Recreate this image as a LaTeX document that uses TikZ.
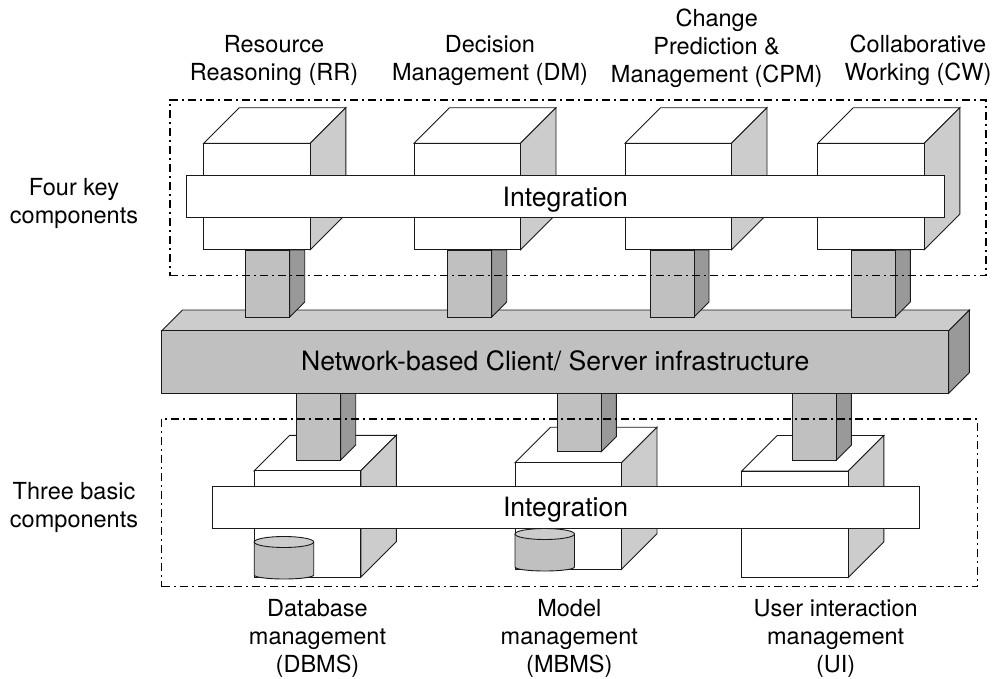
\documentclass[tikz,border=0pt]{standalone}
\usepackage{fontspec}
\setmainfont{TeX Gyre Heros}
\definecolor{sideg}{HTML}{CCCCCC}
\definecolor{frontg}{HTML}{C0C0C0}
\definecolor{darkg}{HTML}{999999}
\definecolor{ink}{HTML}{1A1A1A}
\tikzset{
  edge/.style={draw=ink,line width=0.9pt,line join=miter},
  whiteface/.style={edge,fill=white},
  sideface/.style={edge,fill=sideg},
  frontface/.style={edge,fill=frontg},
  darkface/.style={edge,fill=darkg},
  groupbox/.style={draw=black,line width=1.3pt,dash pattern=on 8pt off 4pt on 2pt off 4pt},
  barnode/.style={draw=ink,line width=0.9pt,inner sep=0pt,font=\fontsize{26.6}{30}\selectfont,text=black},
  lab/.style={align=center,inner sep=0pt,anchor=base,text=black,font=\fontsize{23.5}{28.2}\selectfont},
}
% front top-left x, y
\newcommand{\mycube}[2]{%
  \path[whiteface] (#1,#2) -- ++(35.5,-35.5) -- ++(106.5,0) -- ++(-35.5,35.5) -- cycle;
  \path[sideface] (#1+106.5,#2) -- ++(35.5,-35.5) -- ++(0,106.5) -- ++(-35.5,35.5) -- cycle;
  \path[whiteface] (#1,#2) rectangle ++(106.5,106.5);
}
% front left x, top y, bottom y
\newcommand{\mypillar}[3]{%
  \path[darkface] (#1+44,#2) -- ++(15,0) -- (#1+59,#3-15) -- (#1+44,#3) -- cycle;
  \path[frontface] (#1,#2) rectangle (#1+44,#3);
}
% left x, top y of ellipse, bottom y of body
\newcommand{\mycyl}[3]{%
  \path[frontface] (#1,#2) -- (#1,#3) arc[start angle=180,end angle=0,x radius=29.75,y radius=4] -- (#1+59.5,#2) -- cycle;
  \path[sideface] (#1+29.75,#2) ellipse[x radius=29.75,y radius=5.5];
}
\begin{document}
\begin{tikzpicture}[x=1pt,y=-1pt]
\useasboundingbox (0,0) rectangle (996,679);
% network slab back faces
\path[sideface] (161.7,330.7) -- (182.4,310) -- (969.4,310) -- (948.7,330.7) -- cycle;
\path[darkface] (948.7,330.7) -- (969.4,310) -- (969.4,372.6) -- (948.7,393.3) -- cycle;
% upper pillars and cubes
\mypillar{245.7}{250}{317}
\mypillar{447.7}{250}{317}
\mypillar{650}{250}{317}
\mypillar{851.3}{250}{317}
\mycube{203.8}{143.3}
\mycube{414}{143.3}
\mycube{625}{143.3}
\mycube{817.8}{143.3}
\node[barnode,fill=white,minimum width=757.3pt,minimum height=42.3pt,text height=21pt,text depth=0pt] (topbar) at (565.3,196.15) {Integration};
% lower cubes and pillars
\mycube{254.3}{470.8}
\mycube{515}{462.7}
\mycube{741.8}{471}
\mycyl{254.2}{542}{575}
\mycyl{515}{534}{567}
\mypillar{296.7}{393}{460}
\mypillar{557.3}{393}{451.7}
\mypillar{792.4}{393}{460}
\node[barnode,fill=white,minimum width=706.7pt,minimum height=42.3pt,text height=19pt,text depth=0pt] (lowbar) at (565.6,507.15) {Integration};
\node[barnode,fill=frontg,minimum width=787pt,minimum height=62.6pt,text height=17.4pt,text depth=0pt] (network) at (555.2,362) {Network-based Client/ Server infrastructure};
% dash-dot group frames
\node[groupbox,inner sep=0pt,minimum width=816pt,minimum height=175.7pt] (topgroup) at (578,187.9) {};
\node[groupbox,inner sep=0pt,minimum width=816pt,minimum height=167.7pt] (lowgroup) at (569.7,502.85) {};
% labels
\node[lab] (rr) at (274,81) {Resource\\Reasoning (RR)};
\node[lab] (dm) at (490,81) {Decision\\Management (DM)};
\node[lab] (cpm) at (716.7,82.7) {Change\\Prediction \&\\Management (CPM)};
\node[lab] (cw) at (918,81) {Collaborative\\Working (CW)};
\node[lab] (fourkey) at (74,223.3) {Four key\\components};
\node[lab] (threebasic) at (74,527.3) {Three basic\\components};
\node[lab] (dbms) at (317.5,672.5) {Database\\management\\(DBMS)};
\node[lab] (mbms) at (569.3,672.5) {Model\\management\\(MBMS)};
\node[lab] (ui) at (835.7,672.5) {User interaction\\management\\(UI)};
\end{tikzpicture}
\end{document}
